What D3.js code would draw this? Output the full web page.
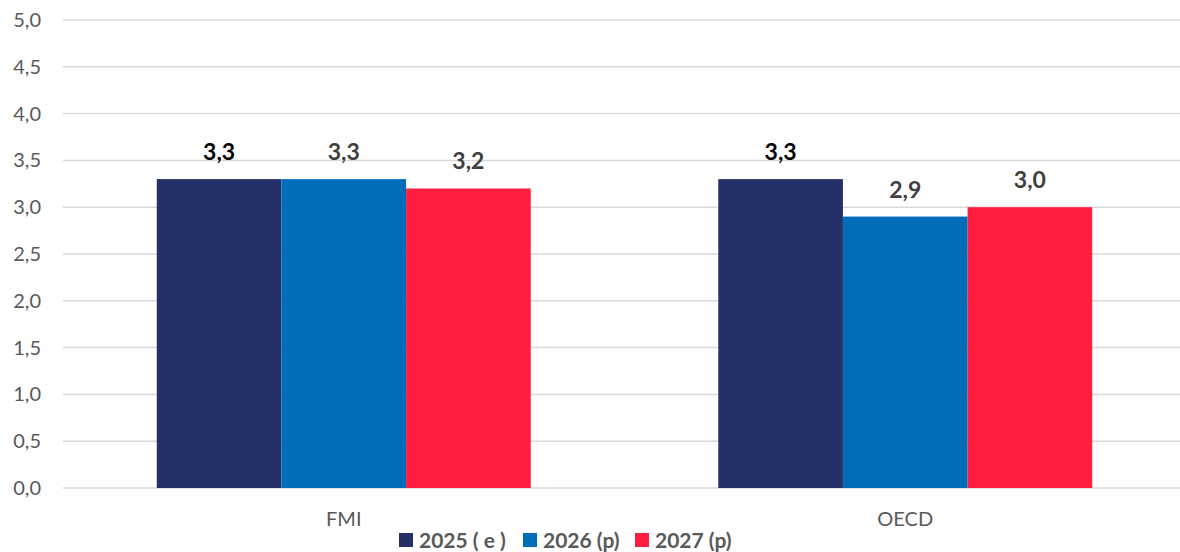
<!DOCTYPE html>
<html>
<head>
<meta charset="utf-8">
<script src="https://cdn.jsdelivr.net/npm/d3@7"></script>
<style>
  html, body { margin: 0; padding: 0; background: #fff; }
  svg { display: block; font-family: Lato, "Open Sans", sans-serif; }
</style>
</head>
<body>
<svg id="chart"></svg>
<script>
const width = 1180, height = 552;

const categories = ["FMI", "OECD"];
const seriesNames = ["2025 ( e )", "2026 (p)", "2027 (p)"];
const seriesColors = ["#252F68", "#006DBB", "#FF1E3F"];
const labelColors = ["#000000", "#404040", "#404040"];
const values = [
    [3.3, 3.3, 3.2],   // FMI
    [3.3, 2.9, 3.0]    // OECD
];
const yTicks = [0, 0.5, 1, 1.5, 2, 2.5, 3, 3.5, 4, 4.5, 5];

const fmt = v => v.toFixed(1).replace(".", ",");

const svg = d3.select("#chart")
    .attr("width", width)
    .attr("height", height);

const y = d3.scaleLinear().domain([0, 5]).range([488, 20]);

const x0 = d3.scaleBand()
    .domain(categories)
    .range([63, 1186])
    .paddingInner(0.334)
    .paddingOuter(0.167);

const x1 = d3.scaleBand()
    .domain(seriesNames)
    .range([0, x0.bandwidth()]);

// gridlines
svg.append("g")
    .selectAll("line")
    .data(yTicks)
    .join("line")
    .attr("x1", 63)
    .attr("x2", width)
    .attr("y1", d => y(d))
    .attr("y2", d => y(d))
    .attr("stroke", "#d9d9d9")
    .attr("stroke-width", 1.5);

// y axis labels
svg.append("g")
    .selectAll("text")
    .data(yTicks)
    .join("text")
    .attr("x", 41)
    .attr("y", d => y(d) + 7)
    .attr("text-anchor", "end")
    .attr("fill", "#595959")
    .style("font-size", "20px")
    .text(d => fmt(d));

// bars
const groups = svg.append("g")
    .selectAll("g")
    .data(categories)
    .join("g")
    .attr("transform", d => `translate(${x0(d)},0)`);

groups.selectAll("rect")
    .data((d, i) => values[i].map((v, j) => ({ v, j })))
    .join("rect")
    .attr("x", d => x1(seriesNames[d.j]))
    .attr("y", d => y(d.v))
    .attr("width", x1.bandwidth())
    .attr("height", d => y(0) - y(d.v))
    .attr("fill", d => seriesColors[d.j]);

groups.selectAll("text")
    .data((d, i) => values[i].map((v, j) => ({ v, j })))
    .join("text")
    .attr("x", d => x1(seriesNames[d.j]) + x1.bandwidth() / 2)
    .attr("y", d => y(d.v) - 19)
    .attr("text-anchor", "middle")
    .attr("fill", d => labelColors[d.j])
    .style("font-size", "23px")
    .style("font-weight", "bold")
    .text(d => fmt(d.v));

// category labels
svg.append("g")
    .selectAll("text")
    .data(categories)
    .join("text")
    .attr("x", d => x0(d) + x0.bandwidth() / 2)
    .attr("y", 526)
    .attr("text-anchor", "middle")
    .attr("fill", "#595959")
    .style("font-size", "20px")
    .text(d => d);

// legend
const legendX = [399, 523, 635];
const legend = svg.append("g")
    .selectAll("g")
    .data(seriesNames)
    .join("g")
    .attr("transform", (d, i) => `translate(${legendX[i]},533)`);

legend.append("rect")
    .attr("width", 14)
    .attr("height", 14)
    .attr("fill", (d, i) => seriesColors[i]);

legend.append("text")
    .attr("x", 20)
    .attr("y", 14.5)
    .attr("fill", "#595959")
    .style("font-size", "21px")
    .style("font-weight", "bold")
    .text(d => d);
</script>
</body>
</html>
